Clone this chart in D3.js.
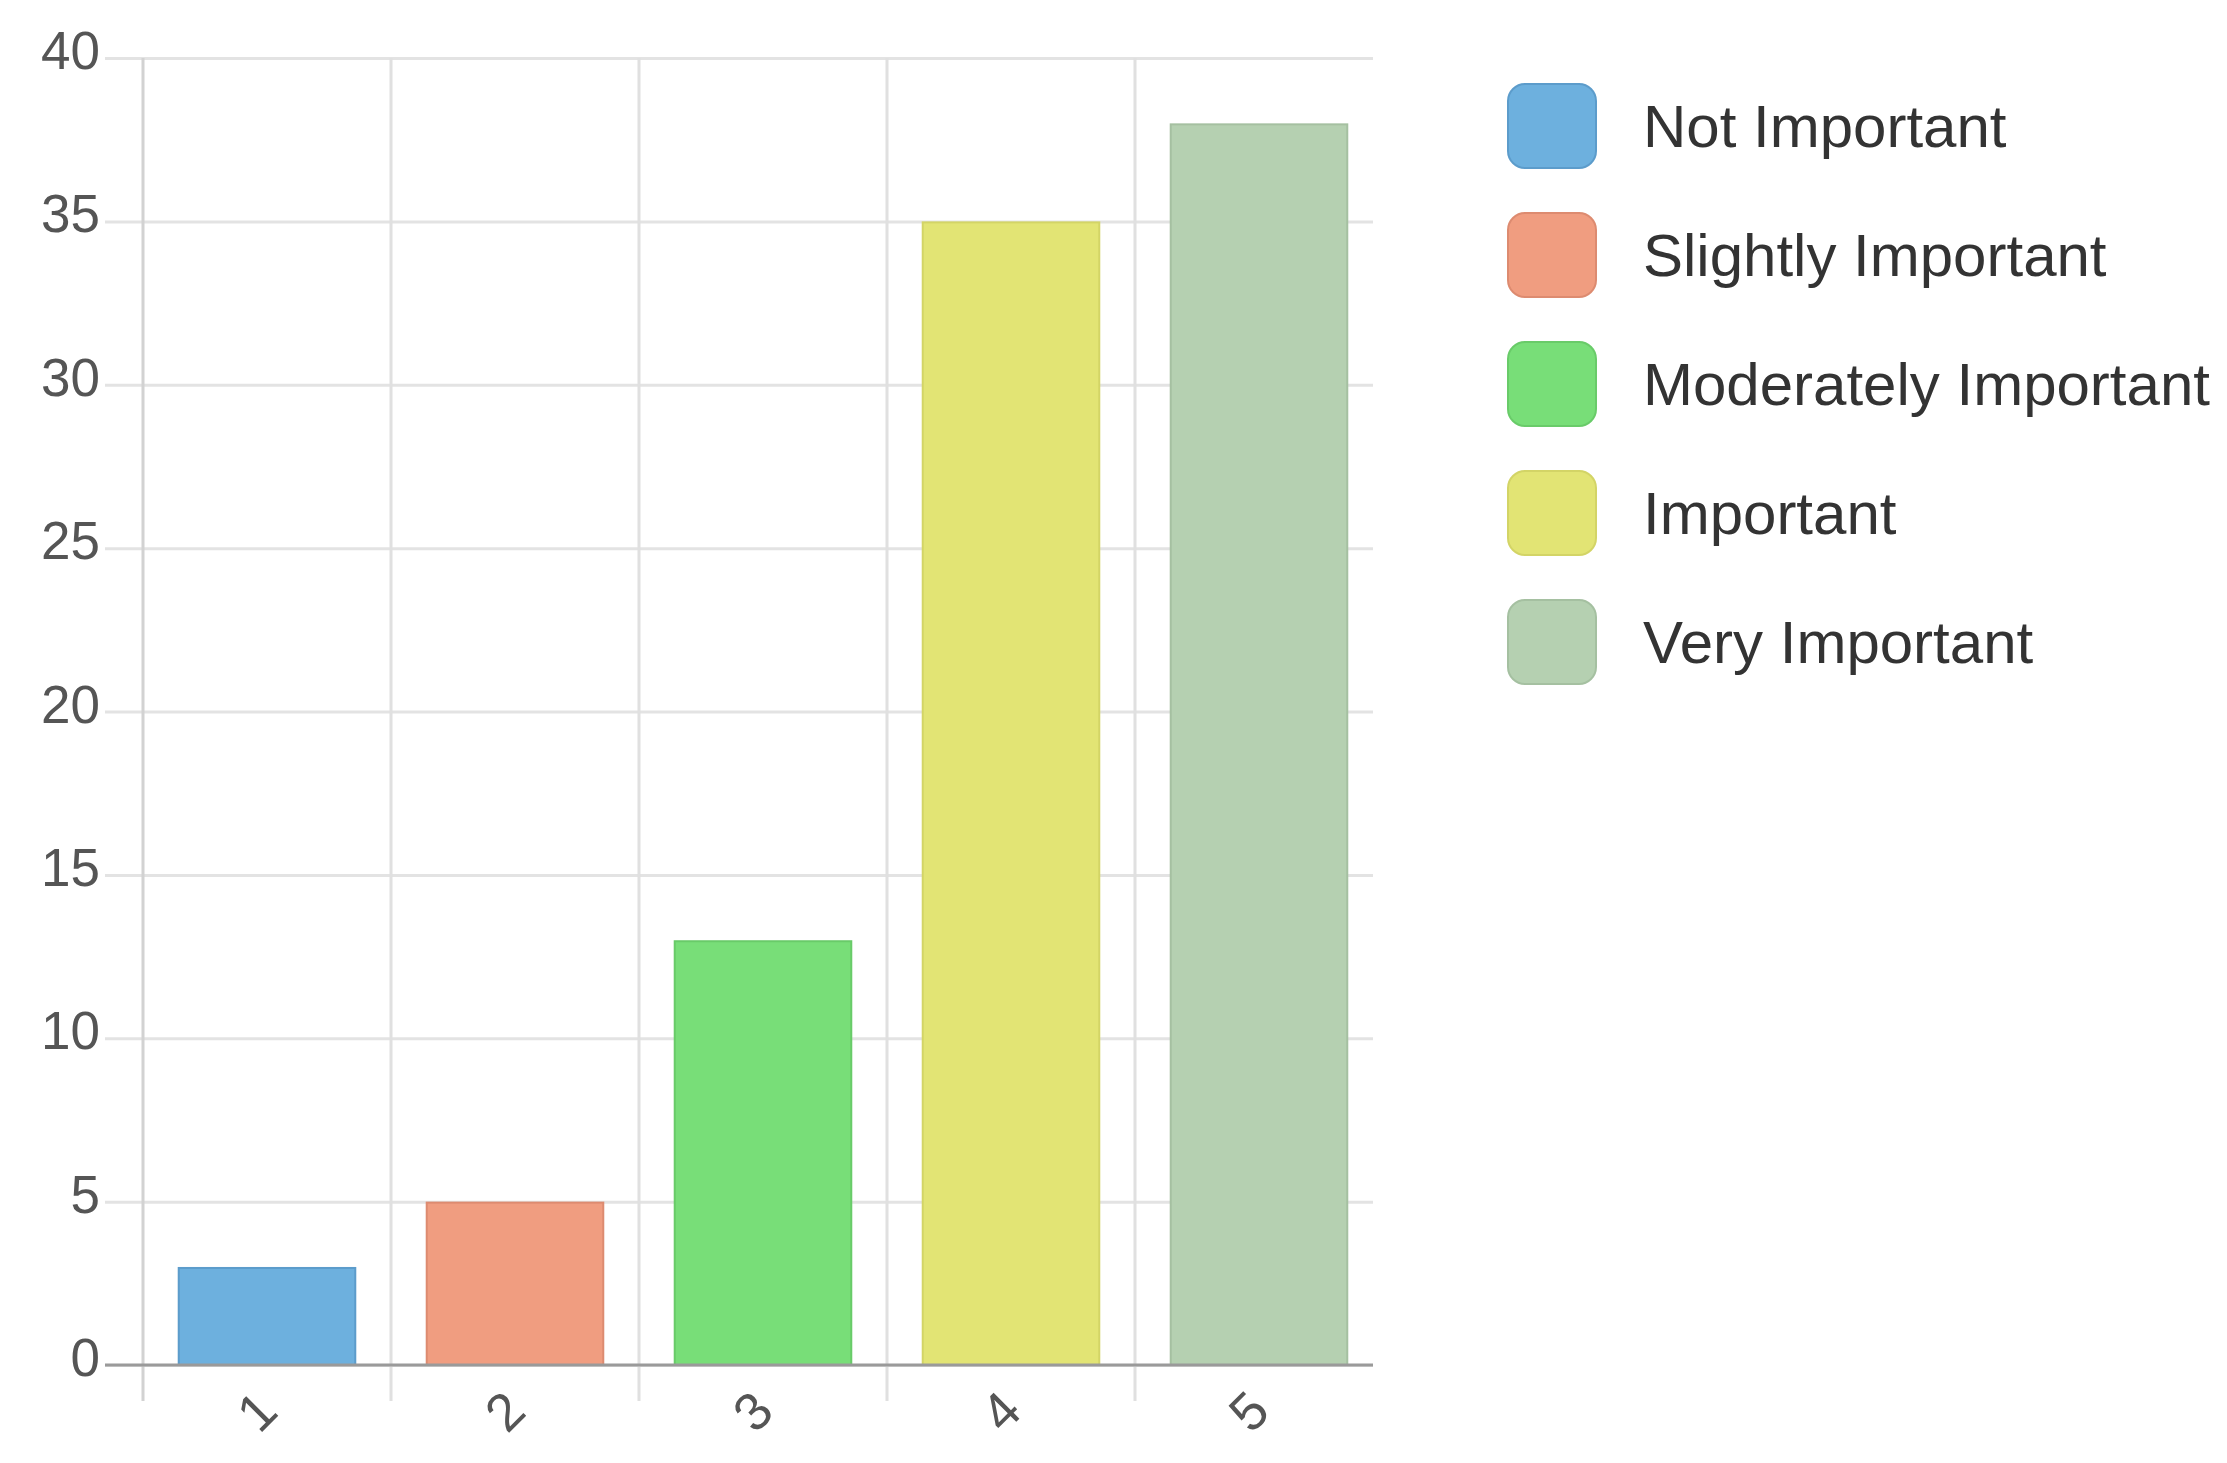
<!DOCTYPE html>
<html>
<head>
<meta charset="utf-8">
<script src="https://cdn.jsdelivr.net/npm/d3@7"></script>
<style>
  html, body { margin: 0; padding: 0; background: #ffffff; }
  svg { display: block; }
</style>
</head>
<body>
<svg id="chart" width="2227" height="1463"></svg>
<script>
// ---- data ----
const categories = ["1", "2", "3", "4", "5"];
const values = [3, 5, 13, 35, 38];
const seriesLabels = ["Not Important", "Slightly Important", "Moderately Important", "Important", "Very Important"];
const fillColors = ["#6db0de", "#f09d80", "#78de78", "#e2e474", "#b5d0b1"];
const strokeColors = ["#5c9ccb", "#dd8b70", "#69cb69", "#d3d466", "#a5c0a1"];
const yTicks = [0, 5, 10, 15, 20, 25, 30, 35, 40];

// ---- layout ----
const W = 2227, H = 1463;
const plot = { left: 143, right: 1383, top: 58, bottom: 1365, gridRight: 1373 };
const svg = d3.select("#chart");

const x = d3.scaleBand().domain(categories).range([plot.left, plot.right]).paddingInner(0).paddingOuter(0);
const y = d3.scaleLinear().domain([0, 40]).range([plot.bottom, plot.top]);

const fontFamily = "'Liberation Sans', Arial, sans-serif";

// horizontal grid lines (with left tick extension)
const yAxis = d3.axisLeft(y).tickValues(yTicks).tickSize(0).tickFormat("");
const gy = svg.append("g").attr("transform", `translate(${plot.left},0)`).call(yAxis);
gy.select(".domain").remove();
gy.selectAll(".tick line")
  .attr("x1", -38).attr("x2", plot.gridRight - plot.left)
  .attr("stroke", "#e3e3e3").attr("stroke-width", 3);

// vertical grid lines at category boundaries (with bottom tick extension)
const boundaries = categories.map(c => x(c));
svg.append("g").selectAll("line").data(boundaries).join("line")
  .attr("x1", d => d).attr("x2", d => d)
  .attr("y1", plot.top).attr("y2", plot.bottom + 36)
  .attr("stroke", (d, i) => i === 0 ? "#d2d2d2" : "#e0e0e0")
  .attr("stroke-width", 3);

// y tick labels
svg.append("g").selectAll("text").data(yTicks).join("text")
  .attr("x", 100).attr("y", d => y(d) + 11)
  .attr("text-anchor", "end")
  .attr("font-family", fontFamily).attr("font-size", 53)
  .attr("fill", "#555")
  .text(d => d);

// bars
const bw = x.bandwidth() * 0.72;
svg.append("g").selectAll("rect").data(values).join("rect")
  .attr("x", (d, i) => x(categories[i]) + (x.bandwidth() - bw) / 2 + 1)
  .attr("width", bw - 2)
  .attr("y", d => y(d) + 1)
  .attr("height", d => plot.bottom - y(d) - 1)
  .attr("fill", (d, i) => fillColors[i])
  .attr("stroke", (d, i) => strokeColors[i])
  .attr("stroke-width", 2);

// zero axis line
const xAxis = d3.axisBottom(x).tickSize(0).tickFormat("");
const gx = svg.append("g").attr("transform", `translate(0,${plot.bottom})`).call(xAxis);
gx.select(".domain").attr("d", `M${plot.left - 38},0H${plot.gridRight}`)
  .attr("stroke", "#9a9a9a").attr("stroke-width", 3);
gx.selectAll(".tick").remove();

// x tick labels (rotated)
svg.append("g").selectAll("text").data(categories).join("text")
  .attr("transform", d => `translate(${x(d) + x.bandwidth() / 2 + 13},${plot.bottom + 49}) rotate(-45)`)
  .attr("text-anchor", "end")
  .attr("font-family", fontFamily).attr("font-size", 53)
  .attr("fill", "#555")
  .text(d => d);

// legend
const legendY = d3.scalePoint().domain(seriesLabels).range([126, 642]);
const lg = svg.append("g");
const item = lg.selectAll("g").data(seriesLabels).join("g")
  .attr("transform", d => `translate(1508,${legendY(d)})`);
item.append("rect")
  .attr("x", 0).attr("y", -42).attr("width", 88).attr("height", 84)
  .attr("rx", 17).attr("ry", 17)
  .attr("fill", (d, i) => fillColors[i])
  .attr("stroke", (d, i) => strokeColors[i])
  .attr("stroke-width", 2);
item.append("text")
  .attr("x", 135).attr("y", 21)
  .attr("font-family", fontFamily).attr("font-size", 60)
  .attr("fill", "#333")
  .text(d => d);
</script>
</body>
</html>
